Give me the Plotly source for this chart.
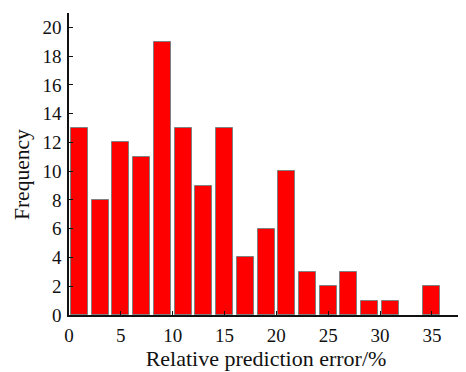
import plotly.graph_objects as go

bin_centers = [1, 3, 5, 7, 9, 11, 13, 15, 17, 19, 21, 23, 25, 27, 29, 31, 33, 35]
frequency = [13, 8, 12, 11, 19, 13, 9, 13, 4, 6, 10, 3, 2, 3, 1, 1, 0, 2]
x_ticks = [0, 5, 10, 15, 20, 25, 30, 35]
y_ticks = [0, 2, 4, 6, 8, 10, 12, 14, 16, 18, 20]

font = "Liberation Serif, Times New Roman, serif"

fig = go.Figure(go.Bar(
    x=bin_centers, y=frequency, width=1.64,
    marker=dict(color="#ff0000",
                line=dict(color="#808080", width=[1 if v > 0 else 0 for v in frequency])),
))

# page body has an 8px default margin, so the figure is sized 8px smaller
fig.update_layout(
    width=458, height=364,
    margin=dict(l=61, r=3, t=5, b=57),
    paper_bgcolor="white", plot_bgcolor="white",
    font=dict(family=font, size=19, color="#111"),
    showlegend=False,
    bargap=0,
    annotations=[dict(
        text="Frequency", textangle=-90, showarrow=False,
        xref="paper", yref="paper", x=0, y=0.4636, xshift=-47,
        xanchor="center", yanchor="middle",
        font=dict(size=21.5, family=font, color="#111"),
    )],
)
fig.update_xaxes(
    range=[0, 38], tickvals=x_ticks, ticks="inside", ticklen=4, tickcolor="#111",
    showline=True, linecolor="#111", linewidth=1.5, showgrid=False, zeroline=False,
    automargin=False, ticklabelstandoff=2,
    title=dict(text="Relative prediction error/%", font=dict(size=22, family=font), standoff=1),
)
fig.update_yaxes(
    range=[0, 21], tickvals=y_ticks, ticks="inside", ticklen=4, tickcolor="#111",
    showline=True, linecolor="#111", linewidth=1.5, showgrid=False, zeroline=False,
    automargin=False, ticklabelstandoff=2,
)

fig.write_html("out.html")
